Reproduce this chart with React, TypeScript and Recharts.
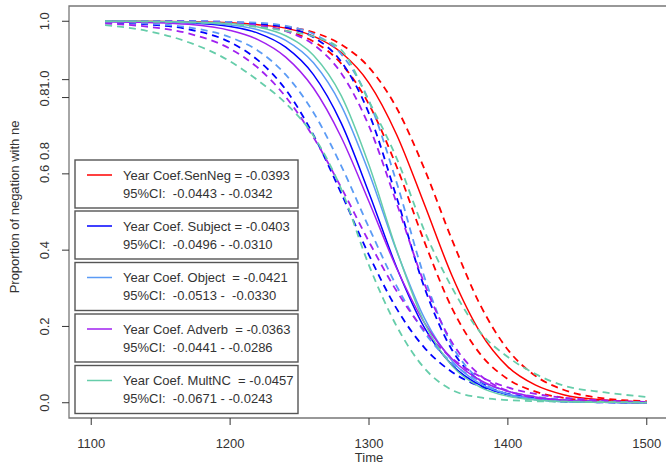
import React from 'react';
import { LineChart, Line, XAxis, YAxis, ReferenceArea } from 'recharts';

const years = [1110, 1140, 1170, 1200, 1220, 1240, 1260, 1280, 1300, 1320, 1340, 1360, 1380, 1400, 1420, 1440, 1470, 1500];

const senNeg = [1.0, 1.0, 0.999, 0.996, 0.991, 0.982, 0.961, 0.918, 0.838, 0.702, 0.519, 0.331, 0.185, 0.094, 0.046, 0.021, 0.007, 0.002];
const senNegHi = [1.0, 1.0, 0.999, 0.997, 0.993, 0.986, 0.971, 0.939, 0.879, 0.772, 0.612, 0.425, 0.257, 0.139, 0.070, 0.034, 0.011, 0.004];
const senNegLo = [1.0, 0.999, 0.998, 0.995, 0.989, 0.975, 0.947, 0.889, 0.782, 0.618, 0.421, 0.246, 0.128, 0.062, 0.029, 0.013, 0.004, 0.001];

const subject = [1.0, 0.999, 0.996, 0.986, 0.969, 0.932, 0.860, 0.733, 0.550, 0.354, 0.196, 0.098, 0.046, 0.021, 0.010, 0.004, 0.001, 0.0];
const subjectLo = [0.997, 0.992, 0.979, 0.945, 0.898, 0.821, 0.702, 0.549, 0.387, 0.246, 0.144, 0.080, 0.043, 0.023, 0.012, 0.006, 0.002, 0.001];
const subjectHi = [1.0, 1.0, 1.0, 0.998, 0.994, 0.984, 0.958, 0.894, 0.758, 0.537, 0.301, 0.137, 0.056, 0.022, 0.008, 0.003, 0.001, 0.0];

const object = [1.0, 0.999, 0.997, 0.990, 0.978, 0.950, 0.891, 0.779, 0.603, 0.397, 0.221, 0.109, 0.050, 0.022, 0.010, 0.004, 0.001, 0.0];
const objectLo = [0.998, 0.994, 0.984, 0.958, 0.923, 0.860, 0.761, 0.621, 0.459, 0.305, 0.184, 0.104, 0.057, 0.030, 0.016, 0.008, 0.003, 0.001];
const objectHi = [1.0, 1.0, 1.0, 0.998, 0.996, 0.988, 0.967, 0.914, 0.791, 0.576, 0.328, 0.149, 0.059, 0.022, 0.008, 0.003, 0.001, 0.0];

const adverb = [0.999, 0.997, 0.992, 0.976, 0.952, 0.906, 0.825, 0.696, 0.527, 0.352, 0.209, 0.114, 0.059, 0.030, 0.015, 0.007, 0.003, 0.001];
const adverbLo = [0.994, 0.986, 0.968, 0.928, 0.878, 0.802, 0.696, 0.564, 0.422, 0.292, 0.189, 0.116, 0.069, 0.040, 0.023, 0.013, 0.006, 0.002];
const adverbHi = [1.0, 1.0, 0.999, 0.995, 0.989, 0.974, 0.939, 0.864, 0.725, 0.522, 0.311, 0.157, 0.072, 0.031, 0.013, 0.006, 0.002, 0.0];

const multNC = [1.0, 1.0, 0.998, 0.994, 0.985, 0.962, 0.911, 0.805, 0.623, 0.399, 0.209, 0.096, 0.041, 0.017, 0.007, 0.003, 0.001, 0.0];
const multNCLo = [0.99, 0.975, 0.945, 0.895, 0.845, 0.785, 0.70, 0.56, 0.36, 0.20, 0.09, 0.033, 0.014, 0.007, 0.004, 0.003, 0.002, 0.001];
const multNCHi = [1.0, 0.999, 0.997, 0.993, 0.985, 0.975, 0.96, 0.925, 0.79, 0.64, 0.45, 0.30, 0.185, 0.12, 0.075, 0.045, 0.027, 0.015];

const xTicks = [1100, 1200, 1300, 1400, 1500];
const yTicks = [0, 0.2, 0.4, 0.6, 0.66, 0.8, 0.847, 1.0];
const yTickLabels = ['0.0', '0.2', '0.4', '0.6', '0.8', '0.8', '1.0', '1.0'];
const yTickHasLine = [true, true, true, true, false, true, true, true];

const legendTitles = [
  'Year Coef.SenNeg = -0.0393',
  'Year Coef. Subject = -0.0403',
  'Year Coef. Object  = -0.0421',
  'Year Coef. Adverb  = -0.0363',
  'Year Coef. MultNC  = -0.0457',
];
const legendCIs = [
  '95%CI:  -0.0443 - -0.0342',
  '95%CI:  -0.0496 - -0.0310',
  '95%CI:  -0.0513 -  -0.0330',
  '95%CI:  -0.0441 - -0.0286',
  '95%CI:  -0.0671 - -0.0243',
];

const RED = '#FF0000';
const BLUE = '#0000FF';
const LBLUE = '#5B9BF5';
const PURPLE = '#A020F0';
const GREEN = '#66CDAA';
const legendColors = [RED, BLUE, LBLUE, PURPLE, GREEN];

const series = [
  { key: 'senNegLo', vals: senNegLo, color: RED, dash: true },
  { key: 'senNegHi', vals: senNegHi, color: RED, dash: true },
  { key: 'senNeg', vals: senNeg, color: RED, dash: false },
  { key: 'subjectLo', vals: subjectLo, color: BLUE, dash: true },
  { key: 'subjectHi', vals: subjectHi, color: BLUE, dash: true },
  { key: 'subject', vals: subject, color: BLUE, dash: false },
  { key: 'objectLo', vals: objectLo, color: LBLUE, dash: true },
  { key: 'objectHi', vals: objectHi, color: LBLUE, dash: true },
  { key: 'object', vals: object, color: LBLUE, dash: false },
  { key: 'adverbLo', vals: adverbLo, color: PURPLE, dash: true },
  { key: 'adverbHi', vals: adverbHi, color: PURPLE, dash: true },
  { key: 'adverb', vals: adverb, color: PURPLE, dash: false },
  { key: 'multNCLo', vals: multNCLo, color: GREEN, dash: true },
  { key: 'multNCHi', vals: multNCHi, color: GREEN, dash: true },
  { key: 'multNC', vals: multNC, color: GREEN, dash: false },
];

const data = years.map((yr, i) => {
  const row: Record<string, number> = { year: yr };
  series.forEach((s) => {
    row[s.key] = s.vals[i];
  });
  return row;
});

const FONT = '"Liberation Sans", Arial, sans-serif';
const TXT = '#333';
const FS = 13;
const AXIS_X = 69;

const YTick = (props: any) => {
  const { y, index } = props;
  return (
    <g>
      {yTickHasLine[index] && <line x1={AXIS_X - 7} x2={AXIS_X} y1={y} y2={y} stroke="#333" strokeWidth={1} />}
      <text
        x={AXIS_X - 24}
        y={y}
        transform={`rotate(-90, ${AXIS_X - 24}, ${y})`}
        textAnchor="middle"
        dominantBaseline="central"
        fontSize={FS}
        fontFamily={FONT}
        fill={TXT}
      >
        {yTickLabels[index]}
      </text>
    </g>
  );
};

const XTick = (props: any) => {
  const { x, index } = props;
  return (
    <g>
      <line x1={x} x2={x} y1={418} y2={425} stroke="#333" strokeWidth={1} />
      <text x={x} y={443} textAnchor="middle" dominantBaseline="central" fontSize={FS} fontFamily={FONT} fill={TXT}>
        {xTicks[index]}
      </text>
    </g>
  );
};

export default function App() {
  const boxTops = [160, 211, 262.5, 314, 365.5];
  return (
    <div style={{ position: 'absolute', left: 0, top: 0, width: 666, height: 464, overflow: 'hidden', background: '#fff' }}>
      <LineChart width={680} height={464} data={data} margin={{ top: 6, right: 11, bottom: 0, left: 0 }}>
        <XAxis
          dataKey="year"
          type="number"
          domain={[1084, 1516]}
          ticks={xTicks}
          interval={0}
          axisLine={false}
          tickLine={false}
          height={46}
          tick={<XTick />}
          allowDataOverflow
        />
        <YAxis
          type="number"
          domain={[-0.04, 1.04]}
          ticks={yTicks}
          interval={0}
          axisLine={false}
          tickLine={false}
          width={69}
          tick={<YTick />}
          allowDataOverflow
        />
        <ReferenceArea x1={1084} x2={1516} y1={-0.04} y2={1.04} fill="none" stroke="#777" strokeWidth={1.3} />
        {series.map((s) => (
          <Line
            key={s.key}
            dataKey={s.key}
            type="monotone"
            stroke={s.color}
            strokeWidth={s.dash ? 1.8 : 1.5}
            strokeDasharray={s.dash ? '7 5' : undefined}
            dot={false}
            isAnimationActive={false}
          />
        ))}
      </LineChart>
      <svg width={666} height={464} style={{ position: 'absolute', left: 0, top: 0, pointerEvents: 'none' }}>
        <text x={369} y={457} textAnchor="middle" dominantBaseline="central" fontSize={FS} fontFamily={FONT} fill={TXT}>
          Time
        </text>
        <text
          x={14}
          y={207}
          transform="rotate(-90, 14, 207)"
          textAnchor="middle"
          dominantBaseline="central"
          fontSize={FS}
          fontFamily={FONT}
          fill={TXT}
        >
          Proportion of negation with ne
        </text>
        {boxTops.map((t, i) => (
          <g key={i}>
            <rect x={75} y={t} width={223} height={48} fill="#fff" stroke="#555" strokeWidth={1.4} />
            <line x1={87} x2={112} y1={t + 15} y2={t + 15} stroke={legendColors[i]} strokeWidth={1.5} />
            <text x={123} y={t + 15} dominantBaseline="central" fontSize={FS} fontFamily={FONT} fill={TXT} style={{ whiteSpace: 'pre' }}>
              {legendTitles[i]}
            </text>
            <text x={123} y={t + 33} dominantBaseline="central" fontSize={FS} fontFamily={FONT} fill={TXT} style={{ whiteSpace: 'pre' }}>
              {legendCIs[i]}
            </text>
          </g>
        ))}
      </svg>
    </div>
  );
}
